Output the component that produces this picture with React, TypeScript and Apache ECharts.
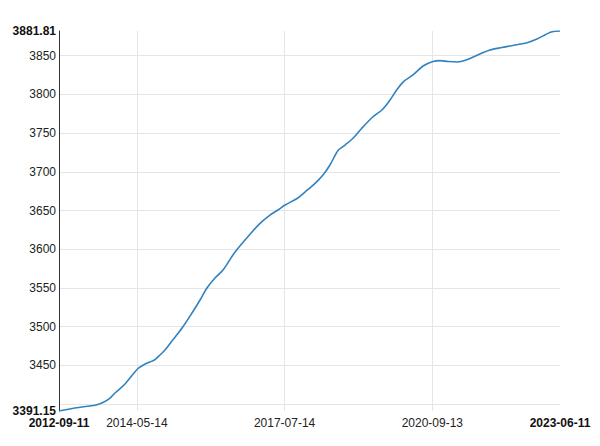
import React, { useEffect, useRef } from "react";
import * as echarts from "echarts";

const dates: string[] = [
  "2012-09-11", "2013-01-14", "2013-06-28", "2013-08-21", "2013-10-16", "2013-11-24",
  "2014-02-10", "2014-05-23", "2014-07-17", "2014-08-25", "2014-10-03", "2014-11-11",
  "2014-12-20", "2015-02-13", "2015-05-03", "2015-07-20", "2015-09-21", "2015-11-14",
  "2016-01-16", "2016-03-19", "2016-06-21", "2016-11-01", "2017-01-03", "2017-03-22",
  "2017-05-24", "2017-07-18", "2017-10-20", "2017-12-21", "2018-03-10", "2018-05-11",
  "2018-07-05", "2018-09-06", "2018-10-31", "2019-01-01", "2019-03-13", "2019-06-07",
  "2019-08-16", "2019-10-18", "2019-12-04", "2020-01-28", "2020-04-15", "2020-07-03",
  "2020-09-19", "2020-11-13", "2021-01-15", "2021-03-26", "2021-05-12", "2021-07-06",
  "2021-09-22", "2021-12-09", "2022-03-13", "2022-05-14", "2022-07-16", "2022-10-02",
  "2022-12-12", "2023-02-12", "2023-03-23", "2023-05-03", "2023-06-11",
];

const values: number[] = [
  3391.15, 3395.0, 3398.9, 3402.1, 3407.9, 3414.4,
  3426.0, 3446.0, 3451.8, 3454.4, 3457.6, 3463.4,
  3469.9, 3481.5, 3498.3, 3517.7, 3534.5, 3550.0,
  3562.9, 3573.2, 3596.4, 3622.3, 3633.5, 3644.2,
  3650.7, 3657.1, 3665.5, 3673.9, 3685.1, 3695.9,
  3708.8, 3727.5, 3734.6, 3743.3, 3756.6, 3771.1,
  3779.8, 3792.7, 3804.3, 3815.9, 3825.0, 3836.6,
  3842.4, 3843.5, 3842.4, 3841.8, 3843.1, 3846.3,
  3852.1, 3857.3, 3860.5, 3862.4, 3864.4, 3867.0,
  3871.5, 3876.6, 3879.9, 3881.5, 3881.81,
];

const TZ = 8 * 3600 * 1000;
const toTs = (s: string) => {
  const [y, m, d] = s.split("-").map(Number);
  return Date.UTC(y, m - 1, d) - TZ;
};
const pad = (n: number) => (n < 10 ? "0" + n : "" + n);
const fmtDate = (v: number) => {
  const d = new Date(v + TZ);
  return d.getUTCFullYear() + "-" + pad(d.getUTCMonth() + 1) + "-" + pad(d.getUTCDate());
};

const FONT = "Liberation Sans, Arial, sans-serif";

export default function App() {
  const ref = useRef<HTMLDivElement>(null);
  useEffect(() => {
    if (!ref.current) return;
    const chart = echarts.init(ref.current, undefined, { renderer: "svg" });
    const ts = dates.map(toTs);
    const xMin = ts[0];
    const xMax = ts[ts.length - 1];
    const yMin = Math.min(...values);
    const yMax = Math.max(...values);
    chart.setOption({
      animation: false,
      grid: { left: 59, right: 40, top: 31, bottom: 35, containLabel: false },
      xAxis: {
        type: "value",
        min: xMin,
        max: xMax,
        splitNumber: 3,
        axisLine: { show: false },
        axisTick: { show: false },
        splitLine: {
          show: true,
          showMinLine: false,
          showMaxLine: false,
          lineStyle: { color: "#e5e5e5", width: 1 },
        },
        axisLabel: {
          showMinLabel: true,
          showMaxLabel: true,
          margin: 6,
          fontSize: 12,
          fontFamily: FONT,
          color: "#222",
          formatter: (v: number) => {
            const t = fmtDate(v);
            return v === xMin || v === xMax ? "{b|" + t + "}" : t;
          },
          rich: {
            b: { fontWeight: "bold", fontSize: 12, fontFamily: FONT, color: "#111" },
          },
        },
      },
      yAxis: {
        type: "value",
        min: yMin,
        max: yMax,
        splitNumber: 10,
        axisLine: { show: true, lineStyle: { color: "#333", width: 1 } },
        axisTick: { show: false },
        splitLine: {
          show: true,
          showMinLine: false,
          showMaxLine: false,
          lineStyle: { color: "#e5e5e5", width: 1 },
        },
        axisLabel: {
          showMinLabel: true,
          showMaxLabel: true,
          margin: 3,
          fontSize: 12,
          fontFamily: FONT,
          color: "#222",
          formatter: (v: number) => {
            if (v === yMin || v === yMax) return "{b|" + v.toFixed(2) + "}";
            return String(Math.round(v));
          },
          rich: {
            b: { fontWeight: "bold", fontSize: 12, fontFamily: FONT, color: "#111" },
          },
        },
      },
      series: [
        {
          type: "line",
          data: ts.map((t, i) => [t, values[i]]),
          showSymbol: false,
          smooth: 0.3,
          lineStyle: { color: "#3182bd", width: 1.6 },
          itemStyle: { color: "#3182bd" },
        },
      ],
    });
    return () => chart.dispose();
  }, []);
  return <div ref={ref} style={{ width: 600, height: 446, margin: -8 }} />;
}
